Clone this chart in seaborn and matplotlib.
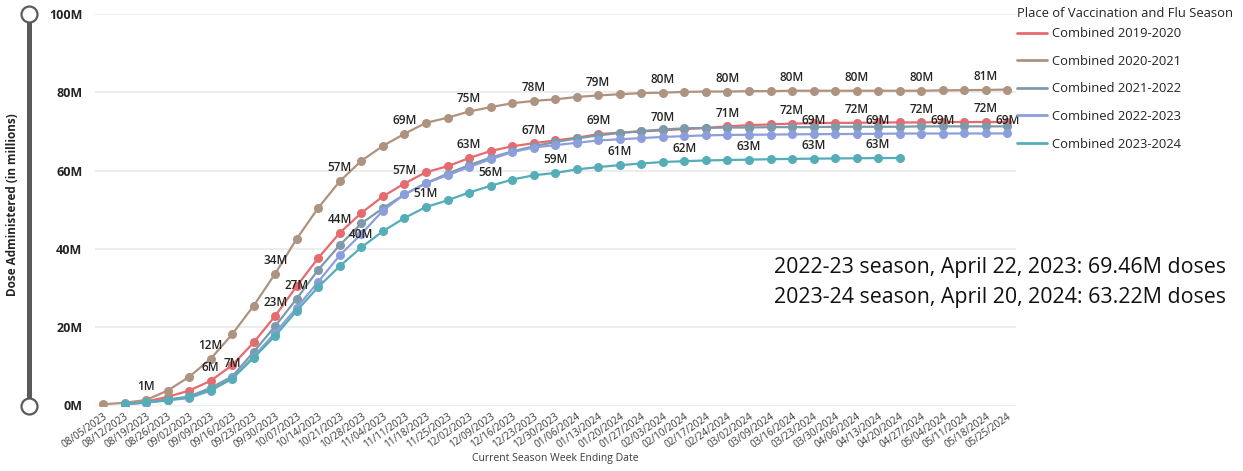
import numpy as np
import pandas as pd
import matplotlib
matplotlib.use("Agg")
import matplotlib.pyplot as plt
from matplotlib.lines import Line2D
import seaborn as sns

nan = np.nan

# week ending dates (x categories)
week_labels = [
    "08/05/2023", "08/12/2023", "08/19/2023", "08/26/2023", "09/02/2023", "09/09/2023",
    "09/16/2023", "09/23/2023", "09/30/2023", "10/07/2023", "10/14/2023", "10/21/2023",
    "10/28/2023", "11/04/2023", "11/11/2023", "11/18/2023", "11/25/2023", "12/02/2023",
    "12/09/2023", "12/16/2023", "12/23/2023", "12/30/2023", "01/06/2024", "01/13/2024",
    "01/20/2024", "01/27/2024", "02/03/2024", "02/10/2024", "02/17/2024", "02/24/2024",
    "03/02/2024", "03/09/2024", "03/16/2024", "03/23/2024", "03/30/2024", "04/06/2024",
    "04/13/2024", "04/20/2024", "04/27/2024", "05/04/2024", "05/11/2024", "05/18/2024",
    "05/25/2024",
]

seasons = ["Combined 2019-2020", "Combined 2020-2021", "Combined 2021-2022",
           "Combined 2022-2023", "Combined 2023-2024"]

# cumulative doses, millions
doses_1920 = [nan, 0.4, 1.0, 2.2, 3.8, 6.3, 10.3, 16.1, 22.9, 30.5, 37.7, 44.1, 49.2, 53.4, 56.7,
              59.6, 61.1, 63.2, 65.0, 66.2, 67.0, 67.7, 68.4, 69.3, 69.7, 70.0, 70.3, 70.6, 70.9,
              71.3, 71.6, 71.8, 72.0, 72.1, 72.2, 72.2, 72.3, 72.3, 72.3, 72.4, 72.4, 72.4, 72.4]
doses_2021 = [0.3, 0.7, 1.4, 3.8, 7.3, 11.9, 18.2, 25.5, 33.7, 42.6, 50.5, 57.3, 62.5, 66.3, 69.4,
              72.2, 73.5, 75.1, 76.2, 77.2, 77.8, 78.2, 78.8, 79.2, 79.5, 79.8, 79.9, 80.1, 80.2,
              80.2, 80.3, 80.3, 80.4, 80.4, 80.4, 80.4, 80.4, 80.4, 80.4, 80.5, 80.55, 80.6, 80.7]
doses_2122 = [nan, 0.3, 0.8, 1.5, 2.3, 4.5, 7.4, 13.7, 20.3, 27.3, 34.7, 41.0, 46.5, 50.4, 53.9,
              56.8, 59.2, 61.4, 63.3, 64.9, 66.2, 67.3, 68.2, 69.0, 69.6, 70.1, 70.5, 70.8, 70.9,
              71.0, 71.0, 71.1, 71.1, 71.1, 71.2, 71.2, 71.2, 71.2, 71.3, 71.3, 71.3, 71.3, 71.3]
doses_2223 = [nan, 0.3, 0.7, 1.3, 1.9, 3.8, 7.0, 12.5, 18.6, 25.0, 31.6, 38.4, 43.8, 49.8, 53.9,
              56.8, 58.8, 60.9, 62.9, 64.7, 65.9, 66.5, 67.1, 67.7, 68.0, 68.3, 68.6, 68.8, 69.0,
              69.1, 69.15, 69.2, 69.25, 69.3, 69.33, 69.36, 69.4, 69.46, 69.47, 69.47, 69.48,
              69.48, 69.49]
doses_2324 = [nan, 0.4, 0.8, 1.4, 2.1, 3.9, 6.8, 12.2, 17.8, 24.2, 30.3, 35.6, 40.4, 44.5, 47.9,
              50.7, 52.4, 54.4, 56.1, 57.7, 58.8, 59.4, 60.3, 60.9, 61.4, 61.8, 62.2, 62.4, 62.6,
              62.7, 62.8, 62.9, 63.0, 63.05, 63.1, 63.15, 63.2, 63.22, nan, nan, nan, nan, nan]

series = [doses_1920, doses_2021, doses_2122, doses_2223, doses_2324]
colors = ["#E56B6F", "#AE9380", "#7D9AAA", "#8C9FDC", "#55ADB7"]

# which weeks carry a data label, per season
label_weeks = {
    "Combined 2019-2020": list(range(5, 43, 3)),
    "Combined 2020-2021": list(range(2, 43, 3)),
    "Combined 2021-2022": [6, 9],
    "Combined 2022-2023": [33, 36, 39, 42],
    "Combined 2023-2024": list(range(12, 37, 3)),
}

notes = ["2022-23 season, April 22, 2023: 69.46M doses",
         "2023-24 season, April 20, 2024: 63.22M doses"]

rows = []
for name, vals in zip(seasons, series):
    for i, v in enumerate(vals):
        if not np.isnan(v):
            rows.append({"week": i, "doses": v, "season": name})
df = pd.DataFrame(rows)

sns.set_style("white")
plt.rcParams["font.family"] = ["Open Sans", "DejaVu Sans"]

W, H = 1243, 471
fig = plt.figure(figsize=(W / 100, H / 100), dpi=100)
ax = fig.add_axes([95 / W, 1 - 405.5 / H, (1016 - 95) / W, (405.5 - 14) / H])

sns.lineplot(data=df, x="week", y="doses", hue="season", hue_order=seasons,
             palette=colors, marker="o", markersize=6.5, markeredgewidth=0,
             linewidth=1.6, legend=False, ax=ax)

for name, vals in zip(seasons, series):
    for i in label_weeks[name]:
        v = vals[i]
        ax.annotate(f"{v:.0f}M", (i, v), xytext=(0, 9.5), textcoords="offset points",
                    ha="center", va="center", fontsize=8.5, fontweight="semibold",
                    color="#252423")

ax.set_xlim(-0.37, 42.4)
ax.set_ylim(0, 100)
ax.set_yticks([0, 20, 40, 60, 80, 100])
ax.set_yticklabels([f"{t}M" for t in [0, 20, 40, 60, 80, 100]],
                   fontsize=9, fontweight="bold", color="#252423")
ax.set_xticks(range(len(week_labels)))
ax.set_xticklabels(week_labels, rotation=35, ha="right", rotation_mode="anchor",
                   fontsize=7.2, color="#3A3A3A")
ax.tick_params(axis="both", length=0, pad=4)
ax.tick_params(axis="y", pad=9)
ax.grid(axis="y", color="#ECECEC", linewidth=1.3)
ax.set_axisbelow(True)
for s in ax.spines.values():
    s.set_visible(False)
ax.set_xlabel("")
ax.set_ylabel("")

fig.text(555 / W, 1 - 458 / H, "Current Season Week Ending Date", ha="center", va="center",
         fontsize=7.5, color="#3A3A3A")
fig.text(13 / W, 1 - 205 / H, "Dose Administered (in millions)", rotation=90,
         ha="center", va="center", fontsize=8.5, fontweight="bold", color="#252423")

# zoom slider on the left
sax = fig.add_axes([14 / W, 1 - 405.5 / H, 30 / W, (405.5 - 14) / H])
sax.set_xlim(0, 1)
sax.set_ylim(0, 100)
sax.axis("off")
sax.plot([0.5, 0.5], [0, 100], color="#5A5A5A", linewidth=3.6, solid_capstyle="butt")
sax.plot([0.5, 0.5], [0, 100], linestyle="none", marker="o", markersize=11.5,
         markerfacecolor="white", markeredgecolor="#5A5A5A", markeredgewidth=1.6,
         clip_on=False)

handles = [Line2D([0], [0], color=c, linewidth=2) for c in colors]
leg = fig.legend(handles, seasons, loc="upper left", bbox_to_anchor=(1012 / W, 1 - 2 / H),
                 frameon=False, fontsize=9.4, title="Place of Vaccination and Flu Season",
                 title_fontsize=9.4, handlelength=2.3, handletextpad=0.4, labelspacing=1.12,
                 borderaxespad=0)
leg._legend_box.align = "left"
leg._legend_box.sep = 5
for t in leg.get_texts():
    t.set_color("#252423")
leg.get_title().set_color("#252423")

for k, txt in enumerate(notes):
    fig.text(774 / W, 1 - (267 + 30 * k) / H, txt, ha="left", va="center",
             fontsize=15.4, color="#111111")

fig.savefig("out.png", dpi=100)
